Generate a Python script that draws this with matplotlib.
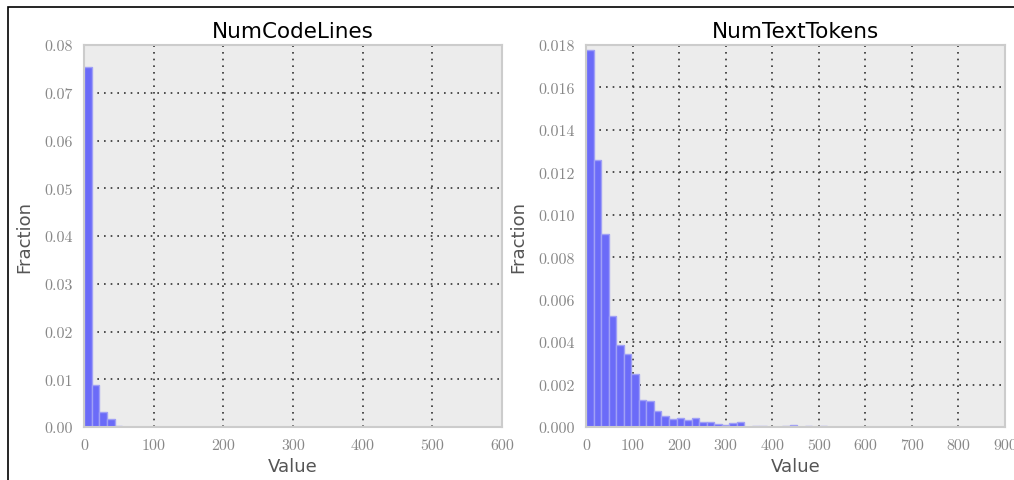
import matplotlib.pyplot as plt
from matplotlib.patches import Rectangle

# bin width and bar heights
code_bin = 11.0
code_frac = [0.0753, 0.0088, 0.0032, 0.0016, 0.0002, 0.0001]

text_bin = 16.2
text_frac = [0.01776, 0.01258, 0.00911, 0.00523, 0.00386, 0.00342, 0.00251,
             0.00129, 0.00122, 0.00074, 0.00052, 0.00038, 0.00041, 0.00032,
             0.00042, 0.00022, 0.00022, 0.00016, 0.00010, 0.00020, 0.00024,
             0.0, 0.00006, 0.00004, 0.0, 0.00002, 0.00004, 0.00008, 0.0,
             0.00004, 0.0, 0.00004]

code_ticks_y = [0.00, 0.01, 0.02, 0.03, 0.04, 0.05, 0.06, 0.07, 0.08]
text_ticks_y = [0.000, 0.002, 0.004, 0.006, 0.008, 0.010, 0.012, 0.014, 0.016, 0.018]

fig = plt.figure(figsize=(10.14, 4.81), dpi=100)

# frame of the screenshot (left and top edges show)
fig.patches.append(Rectangle((8 / 1014, -0.1), 1.2, 1 - 8 / 481 + 0.1,
                             transform=fig.transFigure, fill=False,
                             edgecolor='black', linewidth=1.2))


def hist_panel(ax, width, fracs, title, xmax, xstep, yticks, yfmt):
    lefts = [i * width for i in range(len(fracs))]
    ax.bar(lefts, fracs, width=width, align='edge', color='#6b6bf8',
           edgecolor='#a0a0f6', linewidth=1.0, zorder=2)
    ax.set_facecolor('#ececec')
    for s in ax.spines.values():
        s.set_color('#cccccc')
        s.set_linewidth(1.5)
    ax.grid(True, color='#333333', linestyle=(0, (1, 3)), linewidth=1.2, zorder=1)
    ax.set_axisbelow(True)
    ax.set_xlim(0, xmax)
    ax.set_ylim(yticks[0], yticks[-1])
    ax.set_xticks(range(0, xmax + 1, xstep))
    ax.set_yticks(yticks)
    ax.set_yticklabels([yfmt % v for v in yticks])
    ax.tick_params(length=0, pad=8, labelsize=11.5, labelcolor='#888888')
    for lab in ax.get_xticklabels() + ax.get_yticklabels():
        lab.set_family('cmr10')
    ax.set_title(title, fontsize=15.5, pad=6)
    ax.set_xlabel('Value', fontsize=13, color='#555555', labelpad=4)
    ax.set_ylabel('Fraction', fontsize=13, color='#555555', labelpad=8)


ax1 = fig.add_axes([84 / 1014, 53 / 481, 418 / 1014, 382 / 481])
hist_panel(ax1, code_bin, code_frac, 'NumCodeLines', 600, 100, code_ticks_y, '%.2f')

ax2 = fig.add_axes([586 / 1014, 53 / 481, 419 / 1014, 382 / 481])
hist_panel(ax2, text_bin, text_frac, 'NumTextTokens', 900, 100, text_ticks_y, '%.3f')

fig.savefig('out.png', dpi=100)
